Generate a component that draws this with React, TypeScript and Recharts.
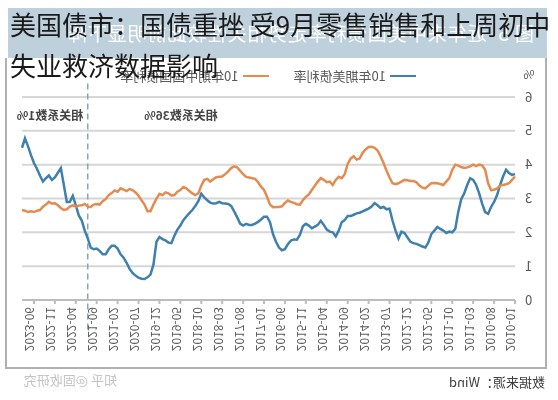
import {CartesianGrid, Legend, Line, LineChart, ReferenceLine, XAxis, YAxis} from 'recharts'

// monthly, 2010-01 .. 2023-10
const START_YEAR = 2010
const MONTH_COUNT = 166
const months: string[] = []
for (let k = 0; k < MONTH_COUNT; k++) {
    const y = START_YEAR + Math.floor(k / 12)
    const m = (k % 12) + 1
    months.push(`${y}-${m < 10 ? '0' + m : m}`)
}

const usYield = [
    3.72, 3.70, 3.75, 3.85, 3.65, 3.40, 3.10, 2.90, 2.75, 2.55,
    2.60, 2.85, 3.15, 3.40, 3.55, 3.60, 3.40, 3.15, 2.98, 2.60,
    2.10, 2.00, 2.02, 1.98, 2.05, 2.10, 2.16, 2.05, 1.95, 1.70,
    1.55, 1.58, 1.62, 1.66, 1.68, 1.72, 1.85, 1.98, 2.02, 1.82,
    2.05, 2.35, 2.70, 2.68, 2.75, 2.72, 2.80, 2.86, 2.76, 2.70,
    2.66, 2.62, 2.58, 2.56, 2.52, 2.48, 2.48, 2.36, 2.30, 2.05,
    1.88, 2.00, 2.02, 2.08, 2.22, 2.34, 2.22, 2.17, 2.12, 2.20,
    2.25, 2.18, 1.92, 1.78, 1.79, 1.76, 1.65, 1.50, 1.47, 1.55,
    1.72, 1.95, 2.30, 2.46, 2.46, 2.38, 2.31, 2.26, 2.22, 2.22,
    2.25, 2.20, 2.26, 2.45, 2.62, 2.78, 2.84, 2.85, 2.86, 2.90,
    2.86, 2.85, 2.88, 2.95, 3.03, 3.14, 2.92, 2.78, 2.66, 2.57,
    2.47, 2.36, 2.20, 2.08, 1.90, 1.68, 1.70, 1.76, 1.80, 1.86,
    1.72, 1.05, 0.75, 0.67, 0.62, 0.63, 0.66, 0.72, 0.80, 0.92,
    1.10, 1.25, 1.35, 1.52, 1.60, 1.60, 1.50, 1.35, 1.35, 1.45,
    1.52, 1.50, 1.55, 1.82, 2.05, 2.35, 2.50, 2.80, 3.08, 2.90,
    2.90, 3.40, 3.90, 3.76, 3.62, 3.55, 3.68, 3.60, 3.50, 3.68,
    3.88, 4.05, 4.28, 4.55, 4.78, 4.50,
]

const chinaYield = [
    3.65, 3.55, 3.45, 3.42, 3.40, 3.38, 3.30, 3.26, 3.25, 3.45,
    3.85, 3.98, 4.00, 3.96, 4.00, 3.95, 3.92, 3.90, 3.93, 3.97,
    4.00, 3.85, 3.60, 3.50, 3.40, 3.43, 3.45, 3.46, 3.45, 3.38,
    3.30, 3.32, 3.38, 3.48, 3.52, 3.52, 3.54, 3.55, 3.50, 3.45,
    3.42, 3.45, 3.62, 3.82, 4.05, 4.25, 4.42, 4.50, 4.53, 4.52,
    4.45, 4.35, 4.18, 4.15, 4.25, 4.18, 4.02, 3.72, 3.60, 3.64,
    3.55, 3.40, 3.50, 3.48, 3.55, 3.60, 3.50, 3.38, 3.25, 3.12,
    3.05, 2.95, 2.82, 2.83, 2.87, 2.90, 2.94, 2.87, 2.77, 2.75,
    2.75, 2.74, 2.82, 3.05, 3.25, 3.35, 3.48, 3.58, 3.60, 3.62,
    3.64, 3.72, 3.82, 3.92, 3.95, 3.90, 3.80, 3.72, 3.65, 3.64,
    3.63, 3.57, 3.50, 3.58, 3.55, 3.38, 3.15, 3.10, 3.15, 3.22,
    3.30, 3.34, 3.25, 3.20, 3.10, 3.09, 3.15, 3.18, 3.10, 3.14,
    3.00, 2.82, 2.62, 2.62, 2.82, 2.95, 3.08, 3.18, 3.25, 3.28,
    3.22, 3.26, 3.30, 3.20, 3.24, 3.16, 3.10, 2.98, 2.92, 2.82,
    2.84, 2.82, 2.75, 2.76, 2.84, 2.80, 2.79, 2.76, 2.80, 2.76,
    2.68, 2.66, 2.72, 2.80, 2.86, 2.85, 2.90, 2.82, 2.76, 2.66,
    2.64, 2.60, 2.62, 2.60, 2.64, 2.66,
]

const yTicks = [0, 1, 2, 3, 4, 5, 6]
const seriesNames = ['10年期美债利率', '10年期中国国债利率']
const breakMonth = '2021-12'
const corrLabels = ['相关系数36%', '相关系数1%']

const BLUE = '#3f80ad'
const ORANGE = '#e48b4f'
const CJK = '"Noto Sans CJK SC", "Noto Sans", sans-serif'

const data = months.map((m, i) => ({month: m, us: usYield[i], cn: chinaYield[i]}))

// keep the legend in series order (recharts sorts by name by default)
const LegendContent = ({payload}: any) => {
    const items = [...(payload || [])].sort((a: any, b: any) => seriesNames.indexOf(a.value) - seriesNames.indexOf(b.value))
    return (
        <div style={{display: 'flex', alignItems: 'center', fontFamily: CJK, fontSize: 13, color: '#595959', whiteSpace: 'nowrap'}}>
            {items.map((p: any, i: number) => (
                <div key={i} style={{display: 'flex', alignItems: 'center', marginRight: 25, flexShrink: 0}}>
                    <span style={{display: 'inline-block', width: 26, height: 2, background: p.color, marginRight: 4}}/>
                    <span>{p.value}</span>
                </div>
            ))}
        </div>
    )
}

export default function App() {
    return (
        <div style={{position: 'absolute', left: 0, top: 0, width: 558, height: 400, background: '#fff', overflow: 'hidden', fontFamily: CJK}}>
            {/* the source picture is mirrored left-right, so the whole chart block is flipped */}
            <div style={{position: 'absolute', left: 0, top: 0, width: 558, height: 400, transform: 'scaleX(-1)'}}>
                <div style={{position: 'absolute', left: 11, top: 8, width: 539, height: 50, background: '#bdd0dc'}}>
                    <div style={{position: 'absolute', left: 13, top: 13, color: '#fff', fontSize: 19, lineHeight: '24px', whiteSpace: 'nowrap', letterSpacing: 1}}>
                        图 5&nbsp;&nbsp;近年来中美国债利率走势相关性较此前明显下降
                    </div>
                </div>
                <div style={{position: 'absolute', left: 11, top: 58, width: 538, height: 309, borderLeft: '2px solid #b0b0b0', borderRight: '2px solid #b0b0b0', borderBottom: '2px solid #b0b0b0'}}/>
                <div style={{position: 'absolute', left: 0, top: 0}}>
                    <LineChart width={558} height={400} data={data} margin={{top: 97, right: 22, bottom: 40, left: 13}}>
                        <CartesianGrid vertical={false} stroke="#d6d6d6" strokeWidth={2}/>
                        <XAxis dataKey="month" interval={6} height={60} angle={-90} textAnchor="end"
                               tick={{fontSize: 12, fill: '#595959', fontFamily: CJK}}
                               tickSize={4} tickMargin={3} stroke="#bdbdbd" strokeWidth={2}/>
                        <YAxis domain={[0, 6]} ticks={yTicks} width={30} axisLine={false} tickLine={false}
                               tickSize={0} tickMargin={10}
                               tick={{fontSize: 13, fill: '#595959', fontFamily: CJK}}/>
                        <ReferenceLine segment={[{x: breakMonth, y: 6.4}, {x: breakMonth, y: -0.9}]} ifOverflow="visible"
                                       stroke="#8ea4b2" strokeWidth={1.5} strokeDasharray="6 4"/>
                        <Legend layout="vertical" align="center" verticalAlign="middle" content={<LegendContent/>}
                                wrapperStyle={{left: 142, top: 66, width: 330}}/>
                        <Line type="linear" dataKey="us" name={seriesNames[0]} stroke={BLUE} strokeWidth={2.5} dot={false} isAnimationActive={false}/>
                        <Line type="linear" dataKey="cn" name={seriesNames[1]} stroke={ORANGE} strokeWidth={2.5} dot={false} isAnimationActive={false}/>
                    </LineChart>
                </div>
                <div style={{position: 'absolute', left: 29, top: 66, fontSize: 12, lineHeight: '16px', color: '#595959', transform: 'translateX(-50%)'}}>%</div>
                <div style={{position: 'absolute', left: 377, top: 106, fontSize: 12, fontWeight: 700, color: '#444', transform: 'translateX(-50%)', whiteSpace: 'nowrap'}}>{corrLabels[0]}</div>
                <div style={{position: 'absolute', left: 508, top: 106, fontSize: 12, fontWeight: 700, color: '#444', transform: 'translateX(-50%)', whiteSpace: 'nowrap'}}>{corrLabels[1]}</div>
                <div style={{position: 'absolute', left: 13, top: 372, fontSize: 13, color: '#404040', whiteSpace: 'nowrap'}}>数据来源：Wind</div>
                <div style={{position: 'absolute', left: 441, top: 370, fontSize: 13, color: '#c4c4c4', whiteSpace: 'nowrap'}}>知乎 @固收研究</div>
            </div>
            <div style={{position: 'absolute', left: 10, top: 3, fontSize: 26, lineHeight: '41px', color: '#1a1a1a', whiteSpace: 'nowrap'}}>
                <div>美国债市：国债重挫 受9月零售销售和上周初中</div>
                <div>失业救济数据影响</div>
            </div>
        </div>
    )
}
